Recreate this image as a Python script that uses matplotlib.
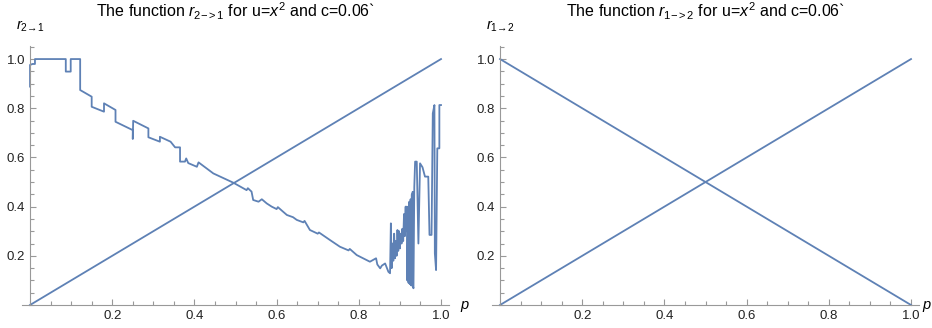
import matplotlib
matplotlib.use('Agg')
import matplotlib.pyplot as plt
from matplotlib.ticker import MultipleLocator, FixedLocator

plt.rcParams['font.family'] = ['Liberation Sans', 'DejaVu Sans']
plt.rcParams['mathtext.fontset'] = 'custom'
plt.rcParams['mathtext.rm'] = 'Liberation Sans'
plt.rcParams['mathtext.it'] = 'Liberation Sans:italic'

# r_{2->1}(p) (vertical jumps kept as repeated p)
p21 = [0.0, 0.0, 0.006, 0.012, 0.012, 0.087, 0.087, 0.099, 0.099, 0.122,
       0.122, 0.150, 0.150, 0.180, 0.180, 0.208, 0.208, 0.250, 0.250, 0.251,
       0.288, 0.288, 0.316, 0.316, 0.342, 0.353, 0.365, 0.365, 0.377, 0.380,
       0.385, 0.406, 0.410, 0.446, 0.495, 0.527, 0.530, 0.539, 0.543, 0.556,
       0.564, 0.576, 0.588, 0.600, 0.603, 0.616, 0.625, 0.640, 0.649, 0.665,
       0.668, 0.681, 0.700, 0.703, 0.730, 0.754, 0.775, 0.778, 0.795, 0.827,
       0.842, 0.845, 0.852, 0.856, 0.864, 0.872, 0.876, 0.878, 0.880, 0.882,
       0.884, 0.886, 0.888, 0.890, 0.892, 0.894, 0.896, 0.898, 0.900, 0.902,
       0.904, 0.906, 0.908, 0.910, 0.912, 0.914, 0.915, 0.917, 0.918, 0.920,
       0.921, 0.923, 0.924, 0.926, 0.927, 0.929, 0.930, 0.931, 0.932, 0.933,
       0.935, 0.937, 0.941, 0.945, 0.949, 0.955, 0.961, 0.969, 0.972, 0.977,
       0.980, 0.984, 0.985, 0.988, 0.991, 0.996, 0.996, 1.0]
r21 = [0.888, 0.976, 0.980, 0.980, 1.0, 1.0, 0.949, 0.949, 1.0, 1.0,
       0.874, 0.847, 0.806, 0.786, 0.820, 0.793, 0.745, 0.711, 0.675, 0.749,
       0.718, 0.682, 0.664, 0.684, 0.664, 0.641, 0.641, 0.583, 0.583, 0.596,
       0.577, 0.562, 0.580, 0.535, 0.497, 0.467, 0.475, 0.461, 0.427, 0.420,
       0.430, 0.413, 0.400, 0.390, 0.398, 0.379, 0.366, 0.357, 0.346, 0.336,
       0.342, 0.305, 0.290, 0.295, 0.264, 0.237, 0.222, 0.228, 0.203, 0.176,
       0.190, 0.165, 0.149, 0.160, 0.169, 0.135, 0.129, 0.332, 0.150, 0.250,
       0.180, 0.290, 0.190, 0.260, 0.200, 0.305, 0.220, 0.300, 0.230, 0.290,
       0.250, 0.310, 0.260, 0.370, 0.280, 0.400, 0.300, 0.400, 0.100, 0.380,
       0.090, 0.420, 0.085, 0.430, 0.080, 0.450, 0.078, 0.460, 0.075, 0.068,
       0.480, 0.583, 0.583, 0.250, 0.576, 0.560, 0.522, 0.522, 0.285, 0.285,
       0.779, 0.813, 0.210, 0.142, 0.637, 0.637, 0.813, 0.813]

# r_{1->2}(p) is the straight line 1 - p; the other line in both panels is p
p_line = [0.0, 1.0]
r12 = [1.0, 0.0]
diag = [0.0, 1.0]

titles = [r'The function $r_{\mathrm{2{-}{>}1}}$ for u=$x^2$ and c=0.06`',
          r'The function $r_{\mathrm{1{-}{>}2}}$ for u=$x^2$ and c=0.06`']
ylabels = [r'$r_{\mathrm{2\!\rightarrow\!1}}$', r'$r_{\mathrm{1\!\rightarrow\!2}}$']

col = '#5E81B5'
axcol = '#999999'

fig = plt.figure(figsize=(9.32, 3.28), dpi=100)
ax1 = fig.add_axes([0.0234, 0.0701, 0.4586, 0.7896])
ax2 = fig.add_axes([0.5277, 0.0701, 0.4586, 0.7896])

ax1.plot(p21, r21, color=col, lw=1.3, clip_on=False)
ax1.plot(p_line, diag, color=col, lw=1.3, clip_on=False)
ax2.plot(p_line, r12, color=col, lw=1.3, clip_on=False)
ax2.plot(p_line, diag, color=col, lw=1.3, clip_on=False)

for ax, t, yl, poff in zip([ax1, ax2], titles, ylabels, [8, 2]):
    ax.set_xlim(-0.02, 1.02)
    ax.set_ylim(0, 1.053)
    ax.spines['top'].set_visible(False)
    ax.spines['right'].set_visible(False)
    ax.spines['left'].set_position(('data', 0))
    ax.spines['left'].set_color(axcol)
    ax.spines['bottom'].set_color(axcol)
    ax.xaxis.set_major_locator(FixedLocator([0.2, 0.4, 0.6, 0.8, 1.0]))
    ax.yaxis.set_major_locator(FixedLocator([0.2, 0.4, 0.6, 0.8, 1.0]))
    ax.xaxis.set_minor_locator(MultipleLocator(0.05))
    ax.yaxis.set_minor_locator(MultipleLocator(0.05))
    ax.tick_params(which='both', direction='in', color=axcol, labelsize=9.5,
                   labelcolor='#222222', width=0.8)
    ax.tick_params(which='major', length=4.5, pad=3.5)
    ax.tick_params(which='minor', length=2.8)
    ax.set_xticklabels(['0.2', '0.4', '0.6', '0.8', '1.0'])
    ax.set_yticklabels(['0.2', '0.4', '0.6', '0.8', '1.0'])
    ax.set_title(t, fontsize=11.5, pad=21)
    ax.annotate(yl, xy=(0, 1.0), xycoords=('data', 'axes fraction'),
                xytext=(0, 9), textcoords='offset points',
                ha='center', va='bottom', fontsize=10.5)
    ax.annotate('p', xy=(1.02, 0), xycoords='data', xytext=(poff, 0),
                textcoords='offset points', ha='left', va='center',
                fontsize=10.5, style='italic', annotation_clip=False)

fig.savefig('out.png', dpi=100)
